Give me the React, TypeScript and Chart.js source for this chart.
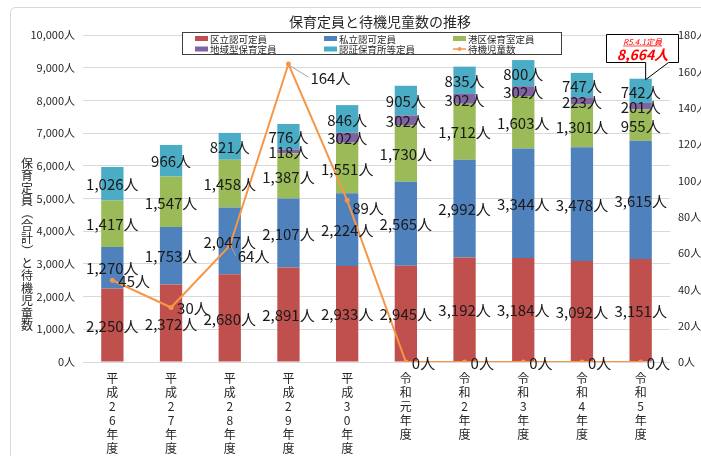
import { useEffect, useRef } from 'react';
import { Chart, registerables } from 'chart.js';
Chart.register(...registerables);

const categories: string[][] = [
  ['平', '成', '2', '6', '年', '度'],
  ['平', '成', '2', '7', '年', '度'],
  ['平', '成', '2', '8', '年', '度'],
  ['平', '成', '2', '9', '年', '度'],
  ['平', '成', '3', '0', '年', '度'],
  ['令', '和', '元', '年', '度'],
  ['令', '和', '2', '年', '度'],
  ['令', '和', '3', '年', '度'],
  ['令', '和', '4', '年', '度'],
  ['令', '和', '5', '年', '度'],
];
const kuritsu = [2250, 2372, 2680, 2891, 2933, 2945, 3192, 3184, 3092, 3151];
const shiritsu = [1270, 1753, 2047, 2107, 2224, 2565, 2992, 3344, 3478, 3615];
const minato = [1417, 1547, 1458, 1387, 1551, 1730, 1712, 1603, 1301, 955];
const chiiki = [0, 0, 0, 118, 302, 302, 302, 302, 223, 201];
const ninsho = [1026, 966, 821, 776, 846, 905, 835, 800, 747, 742];
const taiki = [45, 30, 64, 164, 89, 0, 0, 0, 0, 0];
const seriesNames = ['区立認可定員', '私立認可定員', '港区保育室定員', '地域型保育定員', '認証保育所等定員', '待機児童数'];
const seriesColors = ['#C0504D', '#4F81BD', '#9BBB59', '#8064A2', '#4BACC6', '#F79646'];
const titleText = '保育定員と待機児童数の推移';
const yTitle = '保育定員（合計）と待機児童数';
const calloutTitle = 'R5.4.1定員';
const leftMax = 10000;
const leftStep = 1000;
const rightMax = 180;
const rightStep = 20;

// label layout for the line labels: [dx, dy, leader]
const taikiLabelLayout: [number, number, boolean][] = [
  [6, 0, false], [6, 0, false], [8, 10, true], [22, 13, true], [5, 7, false],
  [6, 0, false], [6, 0, false], [6, 0, false], [6, 0, false], [6, 0, false],
];

const fmt = (n: number) => n.toLocaleString('en-US') + '人';
const LABEL_FONT = '15px "Liberation Sans Narrow", "Noto Sans CJK JP", sans-serif';
const TICK_FONT_FAMILY = '"Liberation Sans Narrow", "Noto Sans CJK JP", sans-serif';
const CJK = '"Noto Sans CJK JP", sans-serif';

const decorPlugin = {
  id: 'decor',
  beforeDraw(chart: any) {
    const ctx = chart.ctx as CanvasRenderingContext2D;
    ctx.save();
    ctx.fillStyle = '#fff';
    ctx.fillRect(0, 0, chart.width, chart.height);
    ctx.strokeStyle = '#D9D9D9';
    ctx.lineWidth = 1;
    ctx.beginPath();
    ctx.moveTo(10.5, chart.height + 2);
    ctx.lineTo(10.5, 13);
    ctx.quadraticCurveTo(10.5, 7.5, 16, 7.5);
    ctx.lineTo(chart.width + 2, 7.5);
    ctx.stroke();
    ctx.restore();
  },
  afterDraw(chart: any) {
    const ctx = chart.ctx as CanvasRenderingContext2D;
    ctx.save();
    // bar labels
    ctx.font = LABEL_FONT;
    ctx.fillStyle = '#1a1a1a';
    ctx.textAlign = 'center';
    ctx.textBaseline = 'middle';
    for (let d = 0; d < 5; d++) {
      const meta = chart.getDatasetMeta(d);
      const data = chart.data.datasets[d].data as number[];
      meta.data.forEach((el: any, i: number) => {
        if (!data[i]) return;
        const p = el.getProps(['x', 'y', 'base'], true);
        ctx.fillText(fmt(data[i]), p.x, (p.y + p.base) / 2 + 1);
      });
    }
    // line labels
    const lm = chart.getDatasetMeta(5);
    ctx.textAlign = 'left';
    lm.data.forEach((el: any, i: number) => {
      const p = el.getProps(['x', 'y'], true);
      const [dx, dy, leader] = taikiLabelLayout[i];
      const lx = p.x + dx;
      const ly = p.y + dy;
      if (leader) {
        ctx.strokeStyle = '#A6A6A6';
        ctx.lineWidth = 1;
        ctx.beginPath();
        ctx.moveTo(p.x + 2, p.y + 2);
        ctx.lineTo(lx - 2, ly);
        ctx.stroke();
      }
      ctx.fillStyle = '#1a1a1a';
      ctx.fillText(fmt(taiki[i]), lx, ly + 1);
    });

    // title
    ctx.textAlign = 'center';
    ctx.textBaseline = 'middle';
    ctx.fillStyle = '#262626';
    ctx.font = '14px ' + CJK;
    ctx.fillText(titleText, 380, 22);

    // y title (vertical)
    ctx.font = '12px ' + CJK;
    const chars = Array.from(yTitle);
    let yy = 163;
    chars.forEach((c) => {
      if (c === '（' || c === '）') {
        ctx.save();
        ctx.translate(27, yy);
        ctx.rotate(Math.PI / 2);
        ctx.fillText(c, 0, 0);
        ctx.restore();
      } else {
        ctx.fillText(c, 27, yy);
      }
      yy += 12.5;
    });

    // legend
    const lx0 = 182.5, ly0 = 32.5, lw = 379, lh = 22;
    ctx.fillStyle = '#fff';
    ctx.fillRect(lx0, ly0, lw, lh);
    ctx.strokeStyle = '#404040';
    ctx.lineWidth = 1;
    ctx.strokeRect(lx0, ly0, lw, lh);
    const cols = [195, 324, 453];
    const rows = [38.5, 49];
    ctx.font = '9.5px ' + CJK;
    ctx.textAlign = 'left';
    seriesNames.forEach((name, i) => {
      const cx = cols[i % 3];
      const cy = rows[Math.floor(i / 3)];
      if (i < 5) {
        ctx.fillStyle = seriesColors[i];
        ctx.fillRect(cx, cy - 2.5, 13, 5);
      } else {
        ctx.strokeStyle = seriesColors[i];
        ctx.lineWidth = 1.5;
        ctx.beginPath();
        ctx.moveTo(cx, cy);
        ctx.lineTo(cx + 13, cy);
        ctx.stroke();
        ctx.fillStyle = seriesColors[i];
        ctx.beginPath();
        ctx.arc(cx + 6.5, cy, 2, 0, Math.PI * 2);
        ctx.fill();
      }
      ctx.fillStyle = '#262626';
      ctx.fillText(name, cx + 15, cy + 0.5);
    });

    // callout
    const total = kuritsu[9] + shiritsu[9] + minato[9] + chiiki[9] + ninsho[9];
    const bx = 606.5, by = 34.5, bw = 72, bh = 28;
    const lastBar = chart.getDatasetMeta(4).data[9].getProps(['x', 'y'], true);
    const tipX = lastBar.x + 5, tipY = lastBar.y + 1;
    ctx.fillStyle = '#fff';
    ctx.strokeStyle = '#000';
    ctx.lineWidth = 1;
    ctx.beginPath();
    ctx.moveTo(bx, by);
    ctx.lineTo(bx + bw, by);
    ctx.lineTo(bx + bw, by + bh);
    ctx.lineTo(bx + 62, by + bh);
    ctx.lineTo(tipX, tipY);
    ctx.lineTo(tipX, by + bh);
    ctx.lineTo(bx, by + bh);
    ctx.closePath();
    ctx.fill();
    ctx.stroke();
    ctx.fillStyle = '#FF0000';
    ctx.textAlign = 'center';
    ctx.font = 'italic 8px ' + CJK;
    const cx = bx + bw / 2;
    ctx.fillText(calloutTitle, cx, by + 7);
    const tw = ctx.measureText(calloutTitle).width;
    ctx.strokeStyle = '#FF0000';
    ctx.lineWidth = 0.7;
    ctx.beginPath();
    ctx.moveTo(cx - tw / 2, by + 11.5);
    ctx.lineTo(cx + tw / 2, by + 11.5);
    ctx.stroke();
    ctx.font = 'italic bold 14px ' + TICK_FONT_FAMILY;
    ctx.fillText(fmt(total), cx, by + 20);
    ctx.restore();
  },
};

export default function App() {
  const ref = useRef<HTMLCanvasElement>(null);
  useEffect(() => {
    document.body.style.margin = '0';
    const barDs = [kuritsu, shiritsu, minato, chiiki, ninsho].map((d, i) => ({
      type: 'bar' as const,
      label: seriesNames[i],
      data: d,
      backgroundColor: seriesColors[i],
      borderWidth: 0,
      yAxisID: 'y',
      stack: 's',
      order: 1,
      categoryPercentage: 1,
      barPercentage: 0.38,
    }));
    const chart = new Chart(ref.current!, {
      type: 'bar',
      data: {
        labels: categories as any,
        datasets: [
          ...barDs,
          {
            type: 'line' as const,
            label: seriesNames[5],
            data: taiki,
            borderColor: seriesColors[5],
            backgroundColor: seriesColors[5],
            borderWidth: 2,
            pointRadius: 2.5,
            pointBorderWidth: 0,
            yAxisID: 'y1',
            order: 0,
            tension: 0,
          } as any,
        ],
      },
      options: {
        animation: false,
        responsive: false,
        events: [],
        layout: { padding: { top: 35, left: 0, right: 0, bottom: 0 } },
        plugins: { legend: { display: false }, title: { display: false }, tooltip: { enabled: false } },
        scales: {
          x: {
            stacked: true,
            grid: { display: false, drawTicks: false },
            border: { display: false },
            ticks: {
              autoSkip: false,
              maxRotation: 0,
              padding: 9,
              color: '#262626',
              font: { family: CJK, size: 12, lineHeight: '14px' as any },
            },
            afterFit: (s: any) => { s.height = 94; },
          },
          y: {
            stacked: true,
            min: 0,
            max: leftMax,
            position: 'left',
            grid: { color: '#D9D9D9', drawTicks: false },
            border: { display: false },
            ticks: {
              stepSize: leftStep,
              padding: 8,
              color: '#262626',
              font: { family: TICK_FONT_FAMILY, size: 11 },
              callback: (v: any) => fmt(Number(v)),
            },
            afterFit: (s: any) => { s.width = 83; },
          },
          y1: {
            min: 0,
            max: rightMax,
            position: 'right',
            grid: { display: false, drawTicks: false },
            border: { display: false },
            ticks: {
              stepSize: rightStep,
              padding: 8,
              color: '#262626',
              font: { family: TICK_FONT_FAMILY, size: 11 },
              callback: (v: any) => fmt(Number(v)),
            },
            afterFit: (s: any) => { s.width = 31; },
          },
        },
      },
      plugins: [decorPlugin],
    });
    return () => chart.destroy();
  }, []);
  return <canvas ref={ref} width={701} height={456} style={{ display: 'block' }} />;
}
